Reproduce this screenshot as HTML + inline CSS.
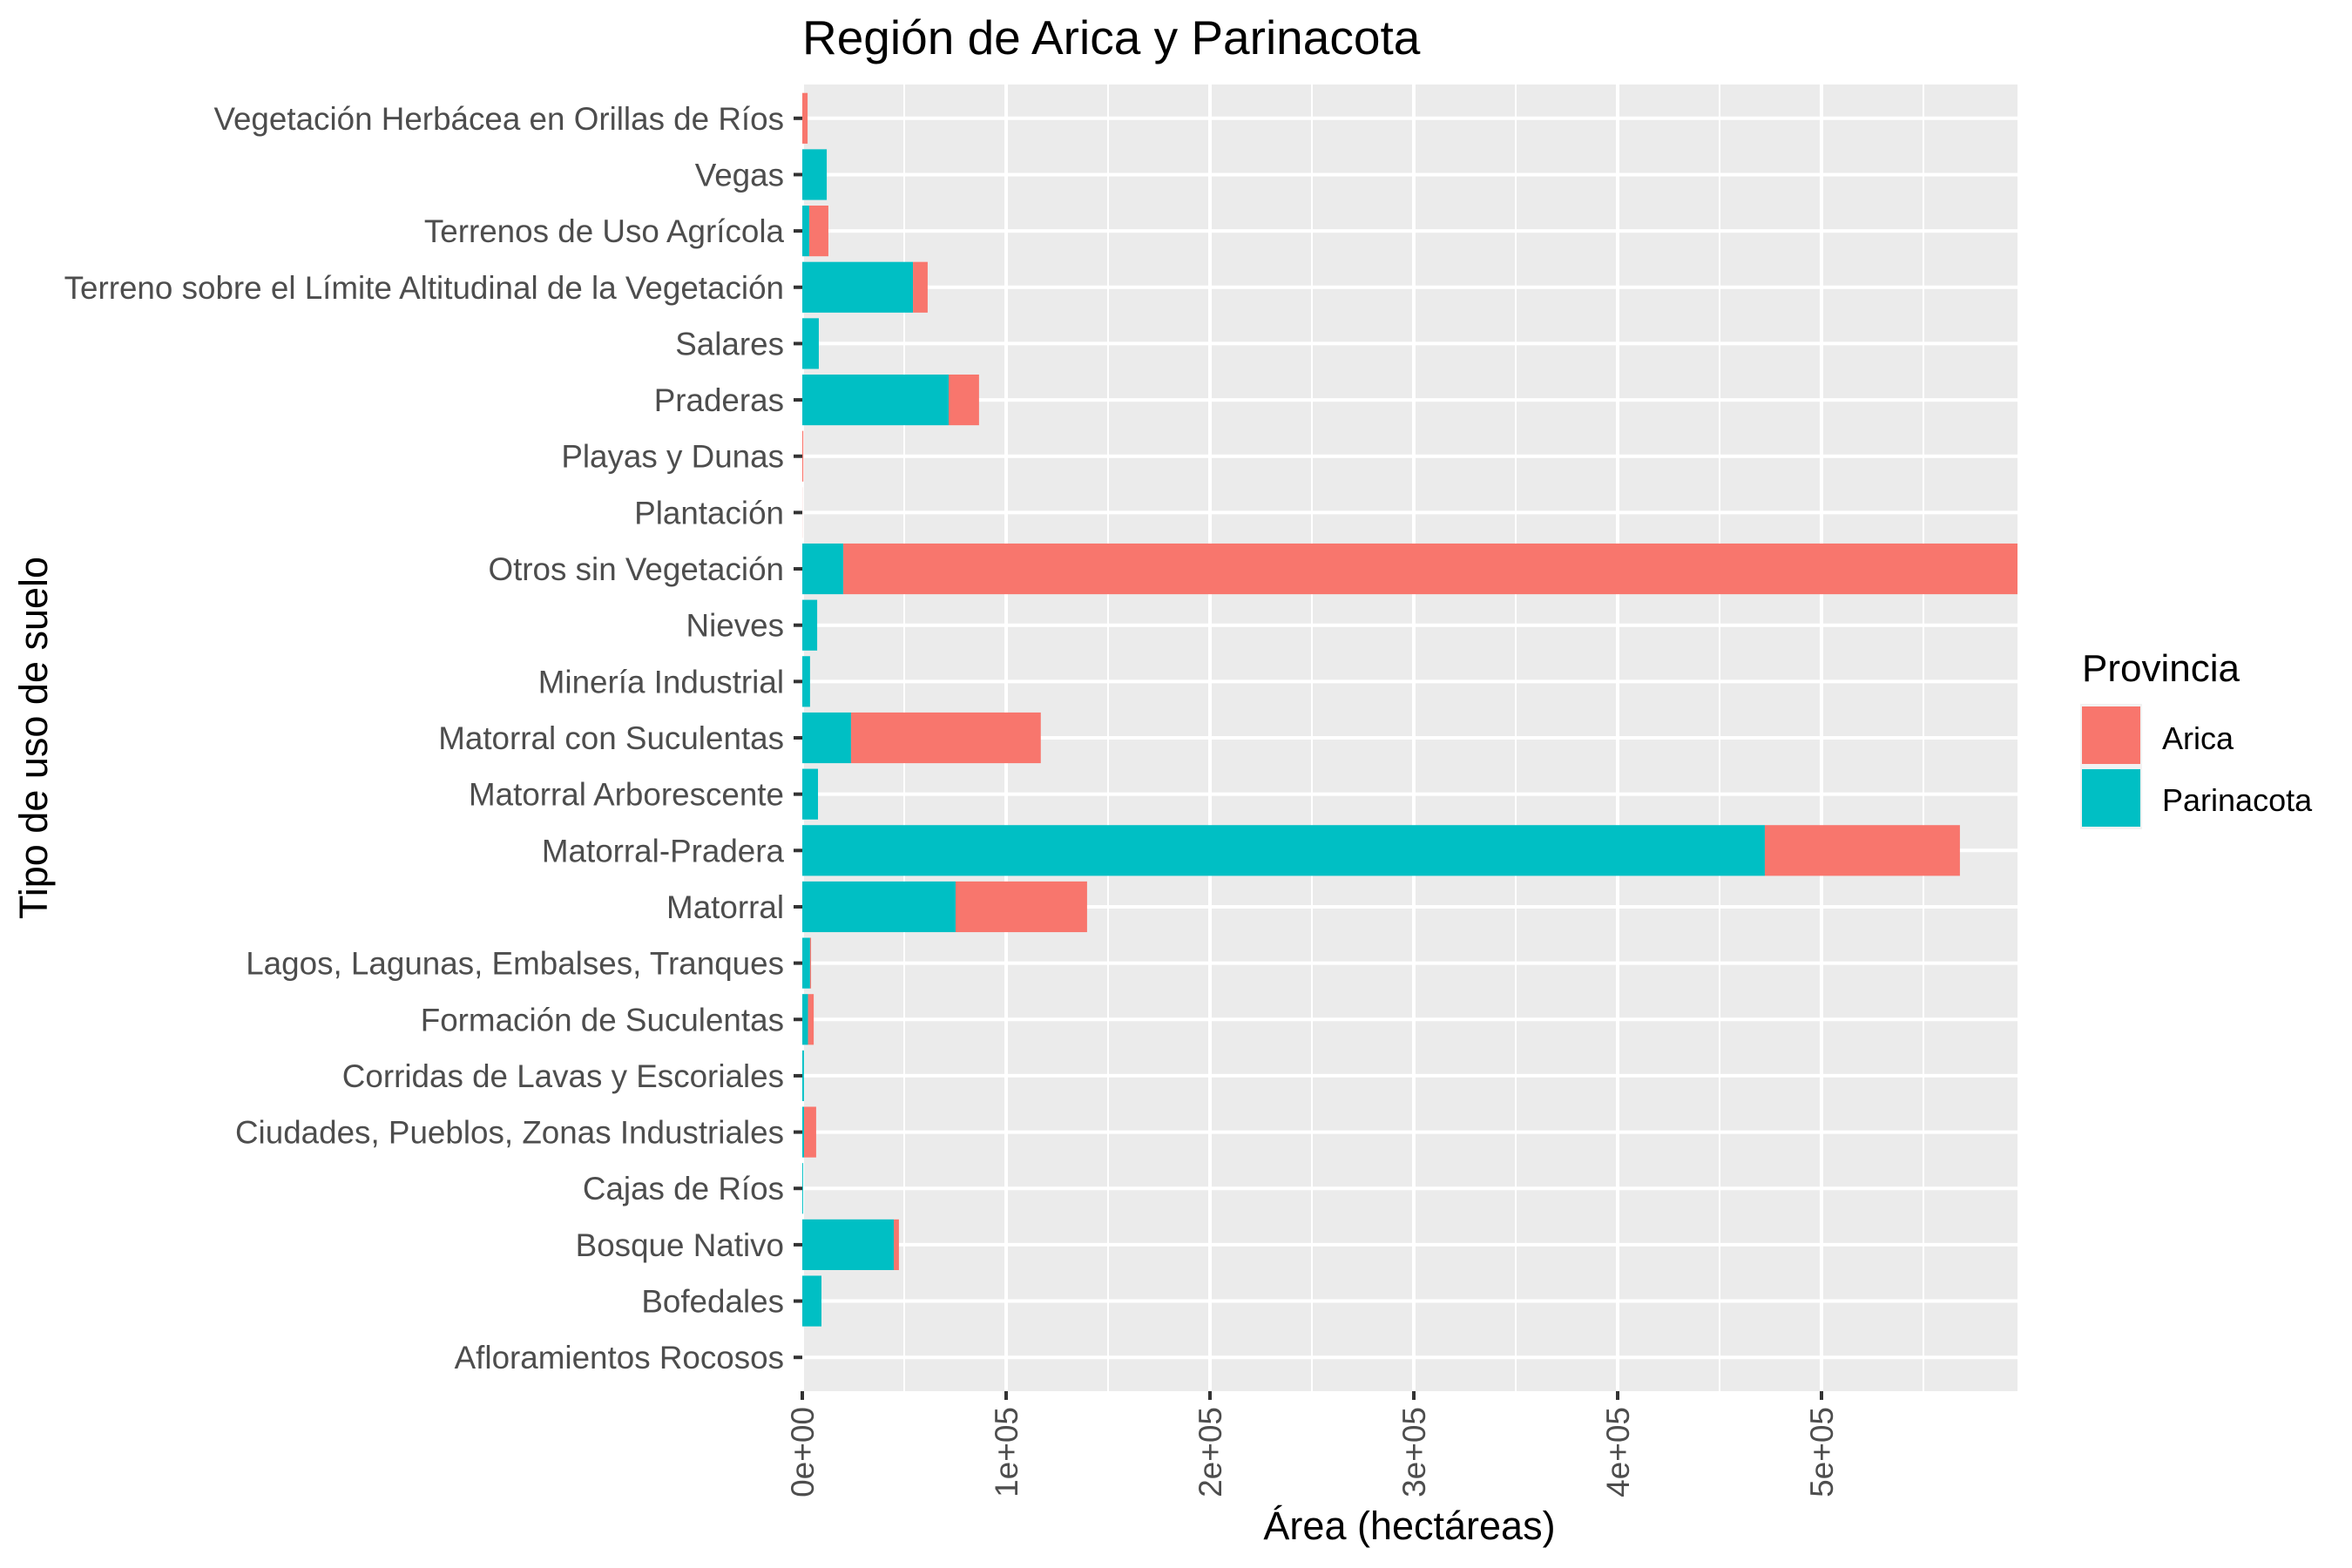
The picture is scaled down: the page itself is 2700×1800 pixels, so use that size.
<!DOCTYPE html>
<html><head><meta charset="utf-8"><style>
html,body{margin:0;padding:0;background:#fff}
svg{display:block;font-family:"Liberation Sans",Arial,sans-serif}
</style></head><body>
<svg id="chart" width="2700" height="1800" viewBox="0 0 2700 1800" xmlns="http://www.w3.org/2000/svg">
<rect x="0" y="0" width="2700" height="1800" fill="#ffffff"/>
<text x="921" y="62" font-size="55" fill="#000">Región de Arica y Parinacota</text>
<rect x="921" y="97" width="1395" height="1500" fill="#ebebeb"/>
<g id="grid"></g>
<g id="bars"></g>
<g id="yaxis"></g>
<g id="xaxis"></g>
<text x="1618" y="1767" font-size="45" text-anchor="middle" fill="#000">Área (hectáreas)</text>
<text transform="translate(54,847) rotate(-90)" font-size="45" text-anchor="middle" fill="#000">Tipo de uso de suelo</text>
<g>
<text x="2390" y="782" font-size="44" fill="#000">Provincia</text>
<rect x="2388" y="808" width="71" height="144" fill="#f2f2f2"/>
<rect x="2390" y="811" width="67" height="66" fill="#F8766D"/>
<rect x="2390" y="883" width="67" height="66" fill="#00BFC4"/>
<text x="2482" y="860" font-size="36" fill="#000">Arica</text>
<text x="2482" y="931" font-size="36" fill="#000">Parinacota</text>
</g>
</svg>
<script>
const categories = ["Vegetación Herbácea en Orillas de Ríos","Vegas","Terrenos de Uso Agrícola","Terreno sobre el Límite Altitudinal de la Vegetación","Salares","Praderas","Playas y Dunas","Plantación","Otros sin Vegetación","Nieves","Minería Industrial","Matorral con Suculentas","Matorral Arborescente","Matorral-Pradera","Matorral","Lagos, Lagunas, Embalses, Tranques","Formación de Suculentas","Corridas de Lavas y Escoriales","Ciudades, Pueblos, Zonas Industriales","Cajas de Ríos","Bosque Nativo","Bofedales","Afloramientos Rocosos"];
const parinacota = [0,12000,3400,54300,8100,71800,0,0,20100,7300,3800,23900,7700,472200,75200,3800,2800,800,850,400,44900,9400,0];
const arica = [2600,0,9400,7200,0,14900,500,50,576050,0,0,93100,0,95700,64500,500,2800,0,5950,0,2500,0,0];
const xTicks = [0,100000,200000,300000,400000,500000];
const xTickLabels = ["0e+00","1e+05","2e+05","3e+05","4e+05","5e+05"];
const xMax = 596150;

const NS="http://www.w3.org/2000/svg";
const L=921,R=2316,T=97,B=1597;
const step=(B-T)/(categories.length-1+1.2);
function xs(v){return L+(v/xMax)*(R-L);}
function ys(i){return T+step*0.6+i*step;}
function mk(tag,attrs,parent){const e=document.createElementNS(NS,tag);for(const k in attrs)e.setAttribute(k,attrs[k]);parent.appendChild(e);return e;}
const grid=document.getElementById('grid'),bars=document.getElementById('bars'),ya=document.getElementById('yaxis'),xa=document.getElementById('xaxis');
for(let v=50000;v<xMax;v+=100000){const l=mk('line',{x1:xs(v),x2:xs(v),y1:T,y2:B,stroke:'#fff','stroke-width':2},grid);

}
xTicks.forEach((v,i)=>{const l=mk('line',{x1:xs(v),x2:xs(v),y1:T,y2:B,stroke:'#fff','stroke-width':4},grid);


const t=mk('line',{x1:xs(v),x2:xs(v),y1:B,y2:B+10,stroke:'#333','stroke-width':4},xa);


const tx=mk('text',{transform:`translate(${xs(v)+13},${B+18}) rotate(-90)`,'font-size':37,'text-anchor':'end',fill:'#4d4d4d'},xa);
tx.textContent=xTickLabels[i];

});
categories.forEach((c,i)=>{const y=ys(i);
const g=mk('line',{x1:L,x2:R,y1:y,y2:y,stroke:'#fff','stroke-width':4},grid);


const h=step*0.9;
const p=parinacota[i],a=arica[i];
if(p>0){const r=mk('rect',{x:xs(0),y:y-h/2,width:xs(p)-xs(0),height:h,fill:'#00BFC4'},bars);

}
if(a>0){const r=mk('rect',{x:xs(p),y:y-h/2,width:xs(p+a)-xs(p),height:h,fill:'#F8766D'},bars);

}
const t=mk('line',{x1:L-10,x2:L,y1:y,y2:y,stroke:'#333','stroke-width':4},ya);


const tx=mk('text',{x:L-21,y:y+13,'font-size':36.8,'text-anchor':'end',fill:'#4d4d4d'},ya);
tx.textContent=c;

});
</script>
</body></html>
